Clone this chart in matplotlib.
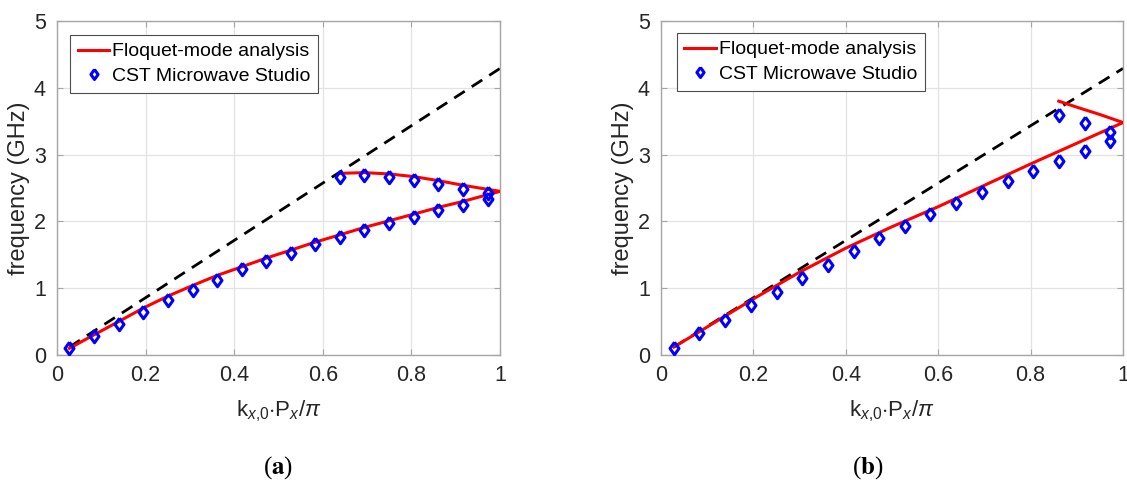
import numpy as np
import matplotlib.pyplot as plt

plt.rcParams['font.family'] = ['Liberation Sans', 'DejaVu Sans']
plt.rcParams['mathtext.fontset'] = 'custom'
plt.rcParams['mathtext.rm'] = 'Liberation Sans'
plt.rcParams['mathtext.it'] = 'Liberation Sans:italic'

# CST sample positions (both panels)
k_cst = [0.028, 0.083, 0.139, 0.194, 0.250, 0.306, 0.361, 0.417, 0.472,
         0.528, 0.583, 0.639, 0.694, 0.750, 0.806, 0.861, 0.917, 0.972]

# panel (a)
a_cst_low = [0.10, 0.28, 0.47, 0.65, 0.82, 0.98, 1.13, 1.28, 1.41,
             1.53, 1.66, 1.76, 1.87, 1.97, 2.07, 2.17, 2.25, 2.33]
a_k_up = [0.639, 0.694, 0.750, 0.806, 0.861, 0.917, 0.972]
a_cst_up = [2.67, 2.69, 2.66, 2.62, 2.56, 2.49, 2.43]

a_fm_k_low = [0.028, 0.083, 0.139, 0.194, 0.25, 0.306, 0.361, 0.417, 0.472,
              0.528, 0.583, 0.639, 0.694, 0.75, 0.806, 0.861, 0.917, 0.972, 1.0]
a_fm_low = [0.10, 0.30, 0.50, 0.70, 0.88, 1.04, 1.19, 1.32, 1.45,
            1.57, 1.69, 1.80, 1.91, 2.01, 2.11, 2.21, 2.30, 2.40, 2.45]
a_fm_k_up = [0.639, 0.694, 0.75, 0.806, 0.861, 0.917, 0.972, 1.0]
a_fm_up = [2.72, 2.73, 2.71, 2.67, 2.61, 2.54, 2.48, 2.45]

# panel (b)
b_cst_low = [0.10, 0.33, 0.53, 0.75, 0.95, 1.16, 1.35, 1.56, 1.75,
             1.93, 2.11, 2.27, 2.44, 2.60, 2.76, 2.91, 3.06, 3.20]
b_k_up = [0.861, 0.917, 0.972]
b_cst_up = [3.60, 3.48, 3.34]

b_fm_k_low = [0.028, 0.1, 0.2, 0.3, 0.4, 0.5, 0.6, 0.7, 0.8, 0.9, 1.0]
b_fm_low = [0.12, 0.42, 0.84, 1.24, 1.60, 1.92, 2.22, 2.54, 2.86, 3.17, 3.48]
b_fm_k_up = [0.861, 0.9, 0.95, 1.0]
b_fm_up = [3.80, 3.71, 3.60, 3.48]

# light line
k_light = [0.028, 1.0]
f_light = [0.12, 4.29]

# wider diamond than matplotlib's 'd'
diamond = [(0, 1), (0.72, 0), (0, -1), (-0.72, 0), (0, 1)]

fig = plt.figure(figsize=(11.27, 4.83), dpi=100)
W, H = 1127, 483
boxes = [(57, 500), (661, 1123)]
panels = [
    (a_fm_k_low, a_fm_low, a_fm_k_up, a_fm_up, a_cst_low, a_k_up, a_cst_up),
    (b_fm_k_low, b_fm_low, b_fm_k_up, b_fm_up, b_cst_low, b_k_up, b_cst_up),
]
leg_anchor = [(0.030, 0.958), (0.034, 0.964)]
captions = [('a', 278), ('b', 868)]

for i, ((x0, x1), data) in enumerate(zip(boxes, panels)):
    fk_lo, f_lo, fk_up, f_up, c_lo, ck_up, c_up = data
    ax = fig.add_axes([x0 / W, 1 - 355 / H, (x1 - x0) / W, 334 / H])
    ax.plot(fk_lo, f_lo, color='red', lw=2.2, label='Floquet-mode analysis', zorder=3)
    ax.plot(fk_up, f_up, color='red', lw=2.2, zorder=3)
    ax.plot(k_light, f_light, color='black', lw=2.0, ls=(0, (4.5, 3)), zorder=2)
    ax.plot(k_cst, c_lo, ls='none', marker=diamond, ms=9, mew=2.2, mfc='none',
            mec='blue', label='CST Microwave Studio', zorder=4)
    ax.plot(ck_up, c_up, ls='none', marker=diamond, ms=9, mew=2.2, mfc='none',
            mec='blue', zorder=4)

    ax.set_xlim(0, 1)
    ax.set_ylim(0, 5)
    ax.set_xticks([0, 0.2, 0.4, 0.6, 0.8, 1])
    ax.set_xticklabels(['0', '0.2', '0.4', '0.6', '0.8', '1'])
    ax.set_yticks([0, 1, 2, 3, 4, 5])
    ax.grid(True, color='#e3e3e3', lw=0.9)
    ax.set_axisbelow(True)
    for s in ax.spines.values():
        s.set_color('#a6a6a6')
        s.set_linewidth(1.0)
    ax.tick_params(direction='in', length=4, width=0.8, color='#a6a6a6',
                   labelsize=15.5, labelcolor='#262626', top=True, right=True)
    ax.tick_params(axis='x', pad=7)
    ax.tick_params(axis='y', pad=8)
    ax.set_ylabel('frequency (GHz)', fontsize=17, color='#262626', labelpad=3)
    ax.set_xlabel(r'k$_{x{,}0}$$\cdot$P$_x$/$\it{\pi}$', fontsize=16, color='#262626',
                  labelpad=9)

    leg = ax.legend(loc='upper left', bbox_to_anchor=leg_anchor[i], borderaxespad=0,
                    fontsize=14, fancybox=False, framealpha=1, edgecolor='#4d4d4d',
                    handlelength=1.6, handletextpad=0.15, borderpad=0.4,
                    labelspacing=0.35, markerscale=0.8)
    leg.get_frame().set_linewidth(0.8)

    letter, cx = captions[i]
    fig.text(cx / W, 1 - 468 / H, r'($\mathbf{%s}$)' % letter, ha='center', va='center',
             fontsize=18, family='Liberation Serif', math_fontfamily='stix')

fig.savefig('out.png', dpi=100)
